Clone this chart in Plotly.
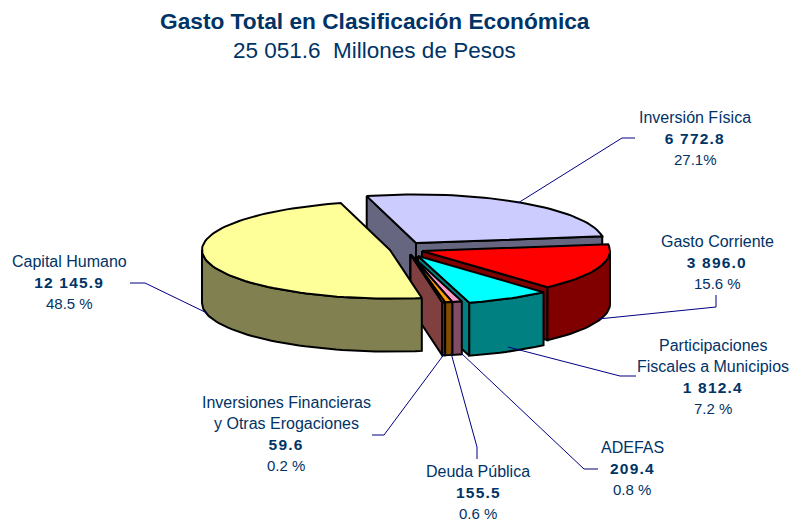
import math
import plotly.graph_objects as go

# ---- data ----
categories = ["Inversión Física", "Gasto Corriente", "Participaciones Fiscales a Municipios",
              "ADEFAS", "Deuda Pública", "Inversiones Financieras y Otras Erogaciones", "Capital Humano"]
values = [6772.8, 3896.0, 1812.4, 209.4, 155.5, 59.6, 12145.9]
value_labels = ["6 772.8", "3 896.0", "1 812.4", "209.4", "155.5", "59.6", "12 145.9"]
percent_labels = ["27.1%", "15.6 %", "7.2 %", "0.8 %", "0.6 %", "0.2 %", "48.5 %"]
name_lines = [["Inversión Física"], ["Gasto Corriente"], ["Participaciones", "Fiscales a Municipios"],
              ["ADEFAS"], ["Deuda Pública"], ["Inversiones Financieras", "y Otras Erogaciones"], ["Capital Humano"]]
top_colors = ["#CCCCFF", "#FF0000", "#00FFFF", "#FF99CC", "#FF9900", "#FF8080", "#FFFF99"]
side_colors = ["#666680", "#800000", "#008080", "#804C66", "#804C00", "#804040", "#808050"]

# ---- layout of the 3D pie, in page pixels ----
W, H = 791, 521
RX, RY, DEPTH = 188, 48.6, 53
START_ANGLE = -15.2
centers = [(416, 243), (422, 251), (418, 256), (410.5, 254.5), (410.5, 254.5), (410.5, 254.5), (390, 250)]
label_x = [695, 717, 713, 632, 478, 286, 69]
label_y = [117, 241, 345, 447, 471, 402, 261]
LINE_STEP = 21.2
leaders = [
    [(518, 203), (622, 138), (635, 138)],
    [(598, 319), (716, 307), (716, 295)],
    [(508, 347), (620, 376), (636, 376)],
    [(461, 353), (584, 469), (598, 469)],
    [(451, 353), (477, 447), (477, 459)],
    [(445, 353), (384, 435), (372, 435)],
    [(207, 313), (145, 283), (130, 283)],
]
INK = "#003366"
LEADER = "#000080"
FONT = "Liberation Sans, Arial, sans-serif"

fig = go.Figure()


def pt(c, a, dz=0.0):
    r = math.radians(a)
    return c[0] + RX * math.sin(r), c[1] - RY * math.cos(r) + dz


def poly(pts, fill):
    xs = [p[0] for p in pts] + [pts[0][0]]
    ys = [p[1] for p in pts] + [pts[0][1]]
    fig.add_trace(go.Scatter(x=xs, y=ys, mode="lines", fill="toself", fillcolor=fill,
                             line=dict(color="#000000", width=2), hoverinfo="skip", showlegend=False))


total = sum(values)
angle = START_ANGLE
for v, c, top, side in zip(values, centers, top_colors, side_colors):
    a, b = angle, angle + v / total * 360
    angle = b
    apex_low = (c[0], c[1] + DEPTH)
    # cut face at the start of the slice
    if math.sin(math.radians(a)) < 0:
        p = pt(c, a)
        poly([c, p, (p[0], p[1] + DEPTH), apex_low], side)
    # cut face at the end of the slice
    if math.sin(math.radians(b)) > 0:
        p = pt(c, b)
        poly([c, p, (p[0], p[1] + DEPTH), apex_low], side)
    # outer wall (front half of the rim only)
    w0, w1 = max(a, 90), min(b, 270)
    if w1 > w0:
        n = max(2, int((w1 - w0) / 2))
        arc = [w0 + (w1 - w0) * i / n for i in range(n + 1)]
        poly([pt(c, t) for t in arc] + [pt(c, t, DEPTH) for t in reversed(arc)], side)
    # top
    n = max(2, int((b - a) / 2))
    poly([c] + [pt(c, a + (b - a) * i / n) for i in range(n + 1)], top)

# leader lines
for seg in leaders:
    fig.add_trace(go.Scatter(x=[p[0] for p in seg], y=[p[1] for p in seg], mode="lines",
                             line=dict(color=LEADER, width=1), hoverinfo="skip", showlegend=False))


def text(x, y, s, size, bold=False):
    fig.add_annotation(x=x, y=y, xref="x", yref="y", text=f"<b>{s}</b>" if bold else s, showarrow=False,
                       xanchor="center", yanchor="middle",
                       font=dict(family=FONT, size=size, color=INK))


for names, val, pct, x, y in zip(name_lines, value_labels, percent_labels, label_x, label_y):
    lines = [(n, False, 16) for n in names] + [(val, True, 15.5), (pct, False, 15)]
    for i, (s, bold, size) in enumerate(lines):
        text(x, y + i * LINE_STEP, s, size, bold)

text(375, 21, "Gasto Total en Clasificación Económica", 22.7, True)
text(374, 50, "25 051.6  Millones de Pesos", 22.5)

fig.update_layout(
    width=W, height=H, margin=dict(l=0, r=0, t=0, b=0),
    paper_bgcolor="white", plot_bgcolor="white", showlegend=False, autosize=False,
    xaxis=dict(range=[0, W], visible=False, fixedrange=True),
    yaxis=dict(range=[H, 0], visible=False, fixedrange=True),
)
post = """
document.body.style.margin='0';document.body.style.overflow='hidden';
document.querySelectorAll('.annotation-text').forEach(function(t){
  if (t.textContent.length < 10 && t.querySelector('tspan')) { t.style.letterSpacing = '1.2px'; }
});
"""
fig.write_html("out.html", config=dict(displayModeBar=False), post_script=post)
